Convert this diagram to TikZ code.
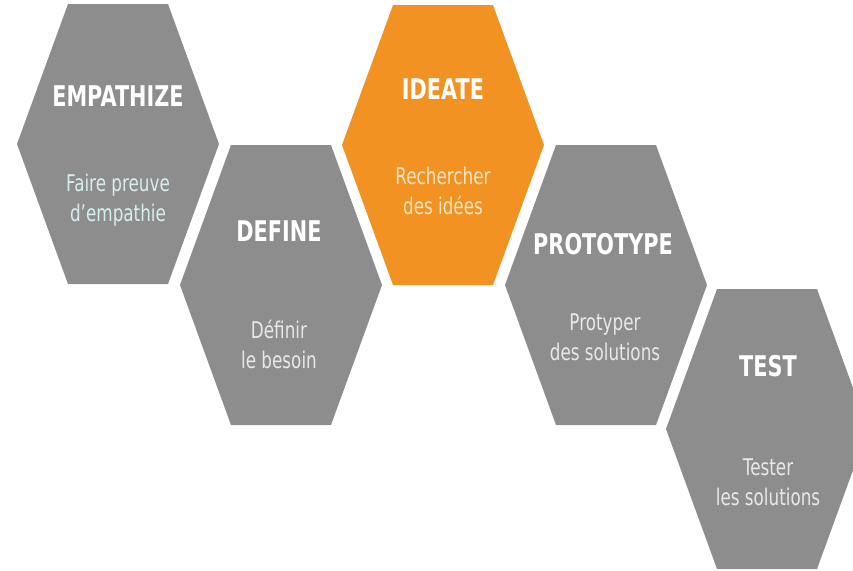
\documentclass[tikz,border=0pt]{standalone}
\usepackage{fontspec}
\setmainfont{DejaVu Sans}[FakeStretch=0.73]
\definecolor{hexgray}{HTML}{8D8D8D}
\definecolor{hexorange}{HTML}{F29222}
\definecolor{subcyan}{HTML}{D6EEEE}
\definecolor{subgray}{HTML}{E8E8E8}
\definecolor{subcream}{HTML}{FDE5C2}
\tikzset{
  title/.style={font=\bfseries\fontsize{28.5}{30}\selectfont, text=white, inner sep=0pt, anchor=center},
  subtitle/.style={font=\fontsize{23}{30}\selectfont, align=center, inner sep=0pt, anchor=center},
}
\newcommand{\hexfill}[3]{%
  \fill[#3, shift={(#1,#2)}] (-101,0) -- (-50,-140) -- (50,-140) -- (101,0) -- (50,140) -- (-50,140) -- cycle;}
\begin{document}
\begin{tikzpicture}[x=1pt,y=-1pt]
\useasboundingbox (0,0) rectangle (853,570);
\clip (0,0) rectangle (853,570);
\fill[white] (0,0) rectangle (853,570);
% hexagon centres
\coordinate (c1) at (118,144);
\coordinate (c2) at (281,285);
\coordinate (c3) at (443,145);
\coordinate (c4) at (606,285);
\coordinate (c5) at (767,429);
\hexfill{118}{144}{hexgray}
\hexfill{281}{285}{hexgray}
\hexfill{443}{145}{hexorange}
\hexfill{606}{285}{hexgray}
\hexfill{767}{429}{hexgray}
% texts
\node[title] (t1) at (118,96) {EMPATHIZE};
\node[subtitle, text=subcyan] (s1) at (118,200) {Faire preuve\\d’empathie};
\node[title] (t2) at (279,231) {DEFINE};
\node[subtitle, text=subgray] (s2) at (279,344) {Définir\\le besoin};
\node[title] (t3) at (443,89) {IDEATE};
\node[subtitle, text=subcream] (s3) at (443,191) {Rechercher\\des idées};
\node[title] (t4) at (603,244) {PROTOTYPE};
\node[subtitle, text=subgray] (s4) at (605,337) {Protyper\\des solutions};
\node[title] (t5) at (768,366) {TEST};
\node[subtitle, text=subgray] (s5) at (768,482) {Tester\\les solutions};
\end{tikzpicture}
\end{document}
